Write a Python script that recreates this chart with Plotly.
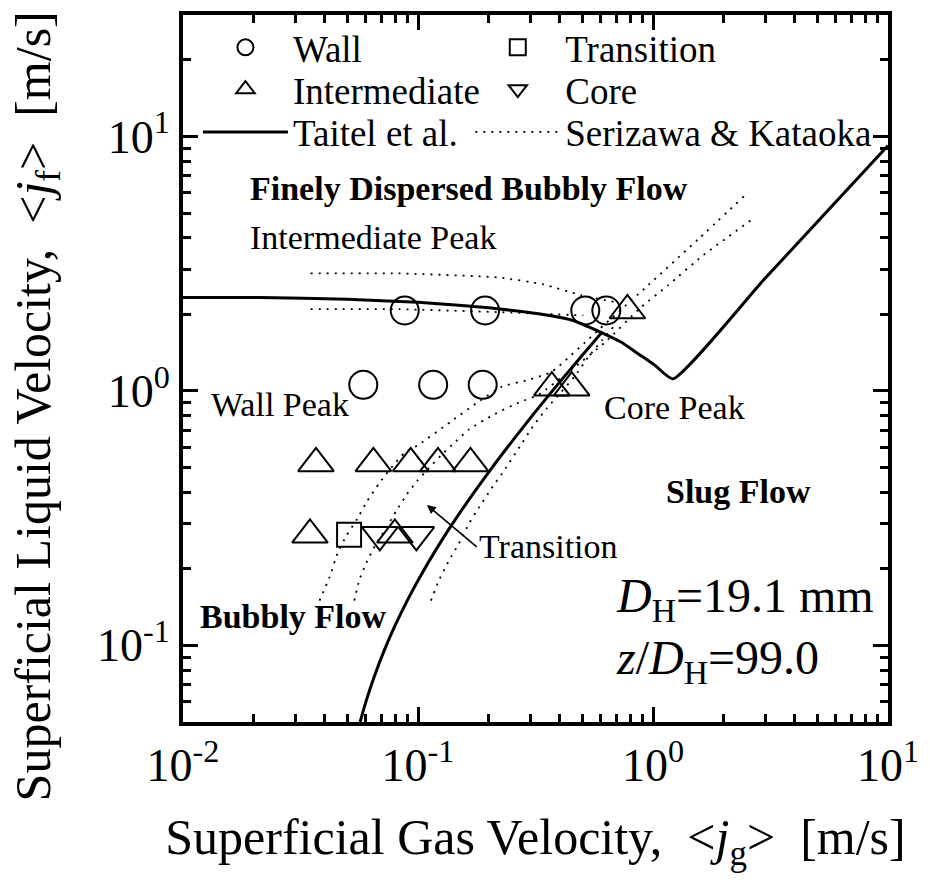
import numpy as np
import plotly.graph_objects as go

# ---------------- data ----------------
wall_x = [0.0878, 0.193, 0.515, 0.633, 0.0585, 0.116, 0.1885]
wall_y = [2.07, 2.07, 2.07, 2.07, 1.057, 1.057, 1.057]

trans_x = [0.0509]
trans_y = [0.272]

inter_x = [0.778, 0.371, 0.451, 0.0368, 0.0646, 0.0931, 0.1216, 0.1672, 0.0347, 0.0797]
inter_y = [2.07, 1.03, 1.03, 0.519, 0.519, 0.519, 0.519, 0.519, 0.272, 0.272]

core_x = [0.0688, 0.0984]
core_y = [0.272, 0.272]

# Taitel et al. boundaries
taitel_disp_x = [0.01, 0.0212, 0.05, 0.1, 0.149, 0.2, 0.326, 0.45, 0.60, 0.731, 0.864, 1.017, 1.215, 3.0, 10.0]
taitel_disp_y = [2.33, 2.33, 2.29, 2.23, 2.17, 2.12, 2.01, 1.90, 1.70, 1.556, 1.40, 1.263, 1.115, 2.77, 9.2]
taitel_slug_x = [0.0567, 0.06, 0.065, 0.072, 0.08, 0.09, 0.1, 0.12, 0.15, 0.2, 0.3, 0.4, 0.5, 0.61]
taitel_slug_y = [0.05, 0.06, 0.075, 0.096, 0.12, 0.15, 0.18, 0.24, 0.33, 0.48, 0.78, 1.08, 1.38, 1.71]

# Serizawa & Kataoka boundaries
sk_h1_x = [0.0349, 0.0831, 0.2204, 0.342, 0.4955, 0.697]
sk_h1_y = [2.894, 2.894, 2.79, 2.62, 2.375, 2.23]
sk_h2_x = [0.0349, 0.0831, 0.2204, 0.505]
sk_h2_y = [2.094, 2.094, 2.04, 1.98]
sk_a_x = [0.0381, 0.0420, 0.0454, 0.0495, 0.0551, 0.0608, 0.0684, 0.0791, 0.0872, 0.101, 0.138,
          0.181, 0.227, 0.295, 0.370, 0.585, 0.952, 1.55, 2.45]
sk_a_y = [0.150, 0.185, 0.229, 0.269, 0.314, 0.369, 0.434, 0.515, 0.568, 0.616, 0.758,
          0.907, 1.038, 1.105, 1.188, 1.733, 2.598, 3.929, 5.838]
sk_b_x = [0.0536, 0.0562, 0.0608, 0.0664, 0.0732, 0.0807, 0.0898, 0.0990, 0.1113, 0.1264, 0.1449,
          0.1645, 0.2099, 0.2679, 0.3256, 0.4493, 0.6263, 0.8896, 1.158, 1.629, 2.628]
sk_b_y = [0.150, 0.180, 0.215, 0.251, 0.289, 0.337, 0.393, 0.442, 0.497, 0.563, 0.633,
          0.705, 0.807, 0.899, 0.966, 1.209, 1.555, 2.132, 2.598, 3.402, 4.704]
sk_c_x = [0.1135, 0.1227, 0.1353, 0.1492, 0.1645, 0.1813, 0.2059, 0.2360, 0.2679, 0.3042, 0.3521,
          0.4076, 0.4627, 0.5304, 0.6080, 0.6768]
sk_c_y = [0.150, 0.180, 0.215, 0.251, 0.300, 0.347, 0.415, 0.497, 0.594, 0.712, 0.851,
          0.992, 1.136, 1.359, 1.584, 1.780]

x_tickvals = [0.01, 0.1, 1, 10]
x_ticktext = ["10<sup>-2</sup>", "10<sup>-1</sup>", "10<sup>0</sup>", "10<sup>1</sup>"]
y_tickvals = [0.1, 1, 10]
y_ticktext = ["10<sup>-1</sup>", "10<sup>0</sup>", "10<sup>1</sup>"]
x_minor = [m * d for d in (0.01, 0.1, 1) for m in range(2, 10)]
y_minor = [0.05, 0.06, 0.07, 0.08, 0.09] + [m * d for d in (0.1, 1) for m in range(2, 10)] + [20, 30]

FONT = "Liberation Serif"
BLACK = "#000000"

fig = go.Figure()

mk_line = dict(color=BLACK, width=2)
fig.add_trace(go.Scatter(x=wall_x, y=wall_y, mode="markers", name="Wall", legend="legend",
                         showlegend=True,
                         marker=dict(symbol="circle-open", size=28, line=mk_line, color=BLACK)))
fig.add_trace(go.Scatter(x=trans_x, y=trans_y, mode="markers", name="Transition", legend="legend2",
                         marker=dict(symbol="square-open", size=24, line=mk_line, color=BLACK)))
fig.add_trace(go.Scatter(x=inter_x, y=inter_y, mode="markers", name="Intermediate", legend="legend3",
                         marker=dict(symbol="triangle-up-open", size=31, line=mk_line, color=BLACK)))
fig.add_trace(go.Scatter(x=core_x, y=core_y, mode="markers", name="Core", legend="legend4",
                         marker=dict(symbol="triangle-down-open", size=31, line=mk_line, color=BLACK)))

fig.add_trace(go.Scatter(x=taitel_disp_x, y=taitel_disp_y, mode="lines", name="Taitel et al.",
                         legend="legend5", legendgroup="taitel",
                         line=dict(color=BLACK, width=3, shape="spline", smoothing=0.5)))
fig.add_trace(go.Scatter(x=taitel_slug_x, y=taitel_slug_y, mode="lines", showlegend=False,
                         legend="legend5", legendgroup="taitel",
                         line=dict(color=BLACK, width=3, shape="spline", smoothing=0.5)))

dot = dict(color=BLACK, width=1.8, dash="2px,6px", shape="spline", smoothing=0.5)
sk = [(sk_h1_x, sk_h1_y), (sk_h2_x, sk_h2_y), (sk_a_x, sk_a_y), (sk_b_x, sk_b_y), (sk_c_x, sk_c_y)]
for i, (xx, yy) in enumerate(sk):
    fig.add_trace(go.Scatter(x=xx, y=yy, mode="lines", name="Serizawa & Kataoka",
                             legend="legend6", legendgroup="sk", showlegend=(i == 0), line=dot))

# one legend per entry, placed like the two-column legend of the original
col_x = [(198 - 183) / 708, (471.5 - 183) / 708]
row_y = [1 - (44 - 11) / 711, 1 - (86 - 11) / 711, 1 - (129 - 11) / 711]
leg_common = dict(orientation="v", xanchor="left", yanchor="middle", bgcolor="rgba(0,0,0,0)",
                  borderwidth=0, font=dict(family=FONT, size=37, color=BLACK), itemwidth=85,
                  itemsizing="trace", tracegroupgap=0)
legs = {}
for k, name in enumerate(["legend", "legend2", "legend3", "legend4", "legend5", "legend6"]):
    legs[name] = dict(x=col_x[k % 2], y=row_y[k // 2], **leg_common)
fig.update_layout(showlegend=True, **legs)

axis_common = dict(type="log", showgrid=False, zeroline=False, showline=True, mirror="allticks",
                   linecolor=BLACK, linewidth=4, ticks="inside", tickcolor=BLACK, tickwidth=3,
                   ticklen=15, tickfont=dict(family=FONT, size=46, color=BLACK))
fig.update_xaxes(range=[-2, 1], tickvals=x_tickvals, ticktext=x_ticktext, **axis_common,
                 minor=dict(tickvals=x_minor, ticks="inside", ticklen=8, tickwidth=3,
                            tickcolor=BLACK, showgrid=False),
                 title=dict(text="Superficial Gas Velocity,  &lt;<i>j</i><sub>g</sub>&gt;  [m/s]",
                            font=dict(family=FONT, size=50, color=BLACK), standoff=30))
fig.update_yaxes(range=[np.log10(0.05), np.log10(30)], tickvals=y_tickvals, ticktext=y_ticktext,
                 **axis_common,
                 minor=dict(tickvals=y_minor, ticks="inside", ticklen=8, tickwidth=3,
                            tickcolor=BLACK, showgrid=False),
                 title=None)

ann_font = dict(family=FONT, size=34, color=BLACK)
annotations = [
    dict(text="<b>Finely Dispersed Bubbly Flow</b>", x=0.01885, y=6.27),
    dict(text="Intermediate Peak", x=0.01885, y=4.0),
    dict(text="Wall Peak", x=0.01284, y=0.883),
    dict(text="Core Peak", x=0.608, y=0.859),
    dict(text="<b>Slug Flow</b>", x=1.113, y=0.4036),
    dict(text="<b>Bubbly Flow</b>", x=0.01158, y=0.130),
]
for a in annotations:
    fig.add_annotation(x=np.log10(a["x"]), y=np.log10(a["y"]), text=a["text"], showarrow=False,
                       xanchor="left", yanchor="middle", font=ann_font)
fig.add_annotation(x=np.log10(0.1092), y=np.log10(0.356), text="Transition", showarrow=True,
                   xanchor="left", yanchor="middle", font=ann_font,
                   ax=np.log10(0.1778), ay=np.log10(0.2439), axref="x", ayref="y",
                   arrowhead=2, arrowsize=1.1, arrowwidth=1.6, arrowcolor=BLACK, standoff=0)
big = dict(family=FONT, size=48, color=BLACK)
fig.add_annotation(x=np.log10(0.680), y=np.log10(0.1528), text="<i>D</i><sub>H</sub>=19.1 mm",
                   showarrow=False, xanchor="left", yanchor="middle", font=big)
fig.add_annotation(x=np.log10(0.680), y=np.log10(0.0867), text="<i>z</i>/<i>D</i><sub>H</sub>=99.0",
                   showarrow=False, xanchor="left", yanchor="middle", font=big)
# y-axis title
fig.add_annotation(xref="paper", yref="paper", x=-(183 - 36) / 708, y=1 - (405 - 11) / 711,
                   text="Superficial Liquid Velocity,  &lt;<i>j</i><sub>f</sub>&gt;  [m/s]",
                   textangle=-90, showarrow=False, xanchor="center", yanchor="middle",
                   font=dict(family=FONT, size=50, color=BLACK))

fig.update_layout(width=930, height=880, margin=dict(l=183, r=39, t=11, b=158),
                  plot_bgcolor="white", paper_bgcolor="white",
                  font=dict(family=FONT, color=BLACK))
fig.write_html("out.html")
